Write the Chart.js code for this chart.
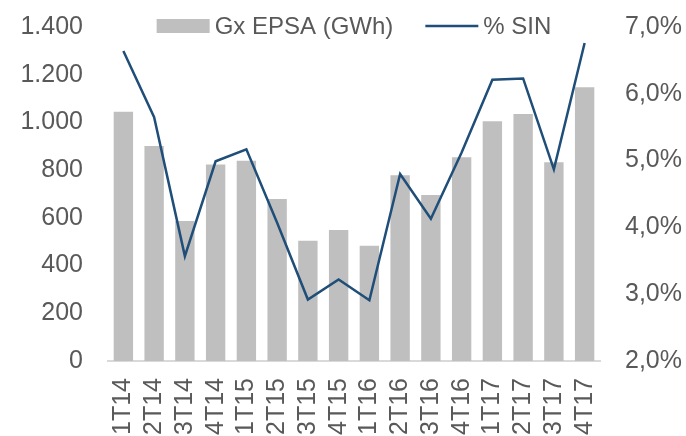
<!DOCTYPE html>
<html>
<head>
<meta charset="utf-8">
<script src="https://cdn.jsdelivr.net/npm/chart.js@4"></script>
<style>
  html, body { margin: 0; padding: 0; background: #fff; }
  #wrap { width: 686px; height: 436px; }
</style>
</head>
<body>
<div id="wrap"><canvas id="epsaChart" width="686" height="436"></canvas></div>
<script>
const quarters = ["1T14", "2T14", "3T14", "4T14", "1T15", "2T15", "3T15", "4T15",
  "1T16", "2T16", "3T16", "4T16", "1T17", "2T17", "3T17", "4T17"];
const gxEpsa = [1045, 901, 587, 824, 839, 679, 504, 549, 483, 779, 696, 854, 1005, 1035, 833, 1147];
const pctSin = [6.64, 5.65, 3.57, 4.99, 5.17, 4.07, 2.92, 3.22, 2.91, 4.80, 4.13, 5.12, 6.21, 6.23, 4.87, 6.76];

const textColor = "#595959";
const fontFamily = "'Liberation Sans', Arial, sans-serif";

// legend drawn inside the plot area, like the original
const insideLegend = {
  id: "insideLegend",
  afterDraw(chart) {
    const ctx = chart.ctx;
    const area = chart.chartArea;
    const sets = chart.data.datasets;
    ctx.save();
    ctx.font = "24px " + fontFamily;
    ctx.textBaseline = "middle";
    const y = 26;
    const sym = 53, gap = 5, between = 32;
    const widths = sets.map(d => ctx.measureText(d.label).width);
    let total = 0;
    widths.forEach((w, i) => { total += sym + gap + w + (i ? between : 0); });
    let x = (area.left + area.right) / 2 - total / 2;
    sets.forEach((d, i) => {
      if (d.type === "line") {
        ctx.strokeStyle = d.borderColor;
        ctx.lineWidth = d.borderWidth;
        ctx.beginPath();
        ctx.moveTo(x, y);
        ctx.lineTo(x + sym, y);
        ctx.stroke();
      } else {
        ctx.fillStyle = d.backgroundColor;
        ctx.fillRect(x, y - 7, sym, 14);
      }
      ctx.fillStyle = textColor;
      ctx.fillText(d.label, x + sym + gap, y + 1);
      x += sym + gap + widths[i] + between;
    });
    ctx.restore();
  }
};

function thousands(v) {
  return String(v).replace(/\B(?=(\d{3})+(?!\d))/g, ".");
}

// hidden tick marks give the gap between labels and plot without padding the top
const hiddenGrid = { display: false, drawTicks: true, tickLength: 25 };

const ctx = document.getElementById("epsaChart").getContext("2d");
new Chart(ctx, {
  data: {
    labels: quarters,
    datasets: [
      {
        type: "bar",
        label: "Gx EPSA (GWh)",
        data: gxEpsa,
        backgroundColor: "#BFBFBF",
        borderWidth: 0,
        categoryPercentage: 1,
        barPercentage: 0.63,
        yAxisID: "y",
        order: 2
      },
      {
        type: "line",
        label: "% SIN",
        data: pctSin,
        borderColor: "#1F4E79",
        borderWidth: 2.5,
        pointRadius: 0,
        tension: 0,
        fill: false,
        yAxisID: "y1",
        order: 1
      }
    ]
  },
  options: {
    responsive: false,
    animation: false,
    devicePixelRatio: 1,
    layout: { padding: { top: 27, left: 0, right: 0, bottom: 0 } },
    plugins: {
      legend: { display: false },
      tooltip: { enabled: false }
    },
    scales: {
      x: {
        offset: true,
        grid: { display: false, drawTicks: false },
        border: { display: true, color: "#D9D9D9", width: 2 },
        ticks: {
          color: textColor,
          font: { family: fontFamily, size: 25 },
          autoSkip: false,
          minRotation: 90,
          maxRotation: 90,
          padding: 17
        },
        afterFit(scale) { scale.height = 75; }
      },
      y: {
        position: "left",
        min: 0,
        max: 1400,
        grid: hiddenGrid,
        border: { display: false },
        ticks: {
          stepSize: 200,
          color: textColor,
          font: { family: fontFamily, size: 25 },
          padding: 0,
          callback: v => thousands(v)
        },
        afterFit(scale) { scale.width = 108; }
      },
      y1: {
        position: "right",
        min: 2,
        max: 7,
        grid: hiddenGrid,
        border: { display: false },
        ticks: {
          stepSize: 1,
          color: textColor,
          font: { family: fontFamily, size: 25 },
          padding: 0,
          callback: v => v.toFixed(1).replace(".", ",") + "%"
        },
        afterFit(scale) { scale.width = 86; }
      }
    }
  },
  plugins: [insideLegend]
});
</script>
</body>
</html>
